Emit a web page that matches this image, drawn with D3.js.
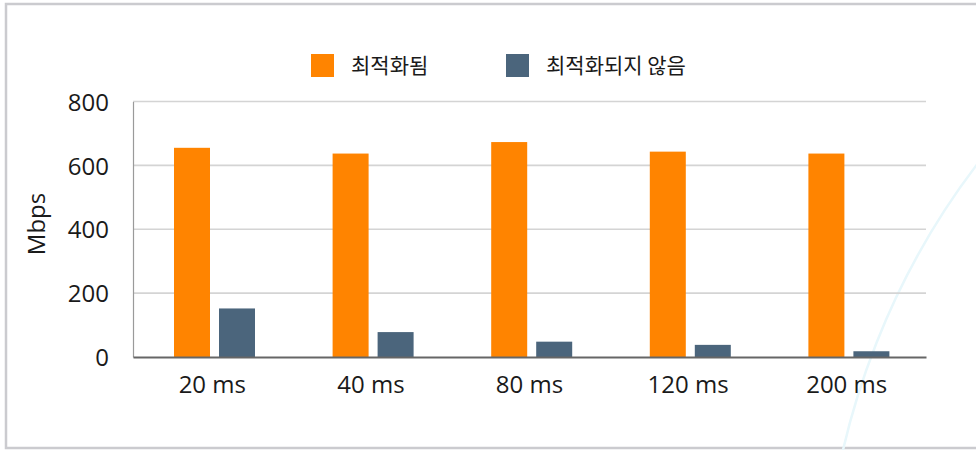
<!DOCTYPE html>
<html>
<head>
<meta charset="utf-8">
<script src="https://cdn.jsdelivr.net/npm/d3@7"></script>
<style>
  html, body { margin: 0; padding: 0; background: #fff; }
  text { font-family: "Open Sans", "Noto Sans", sans-serif; fill: #1a1a1a; }
  .lg text { font-family: "Noto Sans CJK KR", "Noto Sans", sans-serif; }
</style>
</head>
<body>
<div class="chart"></div>
<script>
// データ
var categories = ["20 ms", "40 ms", "80 ms", "120 ms", "200 ms"];
var seriesNames = ["최적화됨", "최적화되지 않음"];
var optimized = [655, 637, 673, 643, 637];
var notOptimized = [152, 78, 48, 38, 18];
var yTicks = [0, 200, 400, 600, 800];
var colors = ["#ff8400", "#4b657c"];

// 基本設定
var w = 976;
var h = 450;
var pLeft = 133, pRight = 926, pTop = 101.5, pBottom = 357;

var svg = d3.select(".chart")
  .append("svg")
  .attr("width", w)
  .attr("height", h);

// 背景の枠
svg.append("rect")
  .attr("x", 6).attr("y", 4)
  .attr("width", w + 10).attr("height", 444)
  .attr("fill", "none")
  .attr("stroke", "#cbcbcf")
  .attr("stroke-width", 2.5);

// 背景の曲線
svg.append("circle")
  .attr("cx", 1572).attr("cy", 618).attr("r", 748)
  .attr("fill", "none")
  .attr("stroke", "#e8f7fb")
  .attr("stroke-width", 2.5);

var y = d3.scaleLinear().domain([0, 800]).range([pBottom, pTop]);
var x0 = d3.scaleBand().domain(categories).range([pLeft, pRight]).paddingInner(0);
var x1 = d3.scaleBand().domain(seriesNames).range([41, 122]).paddingInner(0.2);

// グリッド線
svg.append("g")
  .selectAll("line")
  .data(yTicks.filter(function(d){ return d > 0; }))
  .enter()
  .append("line")
  .attr("x1", pLeft).attr("x2", pRight)
  .attr("y1", function(d){ return y(d); })
  .attr("y2", function(d){ return y(d); })
  .attr("stroke", "#d4d4d4")
  .attr("stroke-width", 1.6);

// y軸
var yAxis = svg.append("g")
  .attr("transform", "translate(" + pLeft + ",0)")
  .call(d3.axisLeft(y).tickValues(yTicks).tickSize(0).tickPadding(24));
yAxis.select(".domain").attr("stroke", "#9a9a9a").attr("stroke-width", 1.2);
yAxis.selectAll("text")
  .attr("font-size", "24px")
  .attr("font-family", "Open Sans")
  .attr("fill", "#1a1a1a")
  .attr("dy", "0.36em");

svg.append("text")
  .text("Mbps")
  .attr("transform", "translate(45,224) rotate(-90)")
  .attr("text-anchor", "middle")
  .attr("font-size", "24px");

// 棒
var groups = svg.append("g")
  .selectAll("g")
  .data(categories)
  .enter()
  .append("g")
  .attr("transform", function(d){ return "translate(" + x0(d) + ",0)"; });

groups.selectAll("rect")
  .data(function(d, i){
    return [
      {name: seriesNames[0], v: optimized[i]},
      {name: seriesNames[1], v: notOptimized[i]}
    ];
  })
  .enter()
  .append("rect")
  .attr("x", function(d){ return x1(d.name); })
  .attr("y", function(d){ return y(d.v); })
  .attr("width", x1.bandwidth())
  .attr("height", function(d){ return y(0) - y(d.v); })
  .attr("fill", function(d, i){ return colors[i]; });

// x軸
var xAxis = svg.append("g")
  .attr("transform", "translate(0," + pBottom + ")")
  .call(d3.axisBottom(x0).tickSize(0).tickPadding(18));
xAxis.select(".domain").attr("stroke", "#666").attr("stroke-width", 1.8);
xAxis.selectAll("text")
  .attr("font-size", "24px")
  .attr("font-family", "Open Sans")
  .attr("fill", "#1a1a1a")
  .attr("dy", "0.75em");

// 凡例
var lgX = [311, 506];
var lg = svg.append("g").attr("class", "lg")
  .selectAll("g")
  .data(seriesNames)
  .enter()
  .append("g")
  .attr("transform", function(d, i){ return "translate(" + lgX[i] + ",54)"; });
lg.append("rect")
  .attr("width", 23).attr("height", 23)
  .attr("fill", function(d, i){ return colors[i]; });
lg.append("text")
  .text(function(d){ return d; })
  .attr("x", 40).attr("y", 19)
  .attr("font-size", "21px");
</script>
</body>
</html>
